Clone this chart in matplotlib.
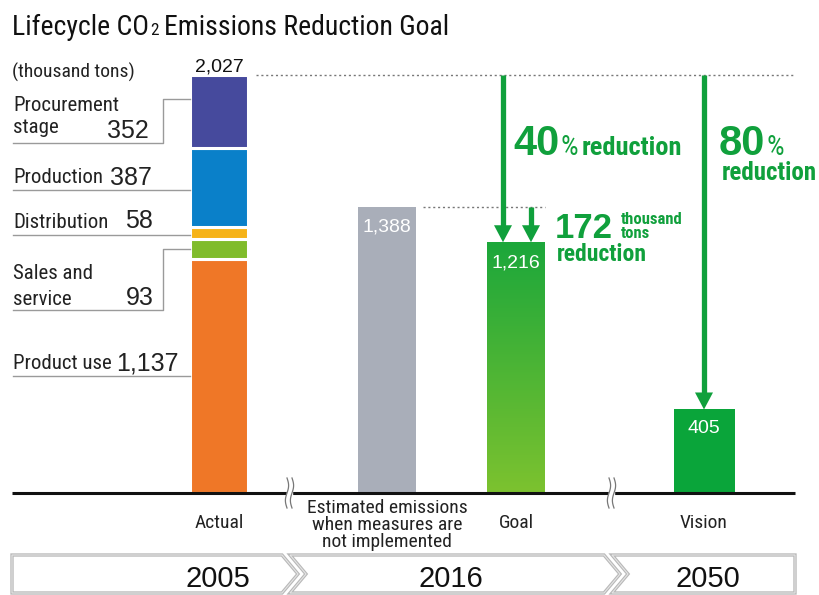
import matplotlib
matplotlib.use("Agg")
import matplotlib.pyplot as plt
import numpy as np
from matplotlib.patches import Polygon
from matplotlib.colors import LinearSegmentedColormap

# data
stage_names = ["Product use", "Sales and\nservice", "Distribution", "Production", "Procurement\nstage"]
stage_values = [1137, 93, 58, 387, 352]
stage_colors = ["#ef7727", "#80bc2b", "#f6b318", "#0a80c9", "#464a9d"]
stage_labels = ["1,137", "93", "58", "387", "352"]

categories = ["Actual", "Estimated emissions\nwhen measures are\nnot implemented", "Goal", "Vision"]
cat_values = [2027, 1388, 1216, 405]
cat_labels = ["2,027", "1,388", "1,216", "405"]
years = ["2005", "2016", "2050"]

NARROW = ["Roboto Condensed", "DejaVu Sans"]
REG = ["Liberation Sans", "DejaVu Sans"]
GREEN = "#10a03c"

W, H = 819, 595
BASE, TOP = 493, 75
SCALE = (BASE - TOP) / cat_values[0]


def py(p):
    # pixel row -> data value
    return (BASE - p) / SCALE


fig = plt.figure(figsize=(W / 100, H / 100), dpi=100)
ax = fig.add_axes([0, 0, 1, 1])
ax.set_xlim(0, W)
ax.set_ylim(py(H), py(0))
ax.axis("off")
rend = fig.canvas.get_renderer()


def chain(x, y, parts):
    for s, gap, kw in parts:
        x += gap
        t = ax.text(x, y, s, va="baseline", ha="left", **kw)
        bb = t.get_window_extent(renderer=rend)
        x = ax.transData.inverted().transform((bb.x1, bb.y0))[0]


# title
chain(12, py(35), [("Lifecycle CO", 0, dict(family=NARROW, size=20, color="#111")),
                   ("2", 1, dict(family=NARROW, size=12.5, color="#111")),
                   ("Emissions Reduction Goal", 5, dict(family=NARROW, size=20, color="#111"))])
ax.text(12, py(78), "(thousand tons)", family=NARROW, size=14, color="#222", va="baseline")

# 2005 stacked bar
xs = [219, 387, 516, 704]
bw = [58, 58, 58, 61]
bottom = 0
for v, c in zip(stage_values, stage_colors):
    ax.bar(xs[0], v, bw[0], bottom=bottom, color=c, edgecolor="white", linewidth=2.2)
    bottom += v
ax.text(xs[0], py(72), cat_labels[0], family=REG, size=14, ha="center", va="baseline", color="#111")

# other bars
ax.bar(xs[1], cat_values[1], bw[1], color="#a9aeb9")
goal = ax.bar(xs[2], cat_values[2], bw[2], color="#3aae3a")[0]
ax.bar(xs[3], cat_values[3], bw[3], color="#0aa53a")
grad = np.linspace(0, 1, 100).reshape(-1, 1)
cm = LinearSegmentedColormap.from_list("g", ["#1ca73b", "#7cc22f"])
im = ax.imshow(grad, cmap=cm, aspect="auto", origin="upper", zorder=1.5,
               extent=[goal.get_x(), goal.get_x() + goal.get_width(), 0, goal.get_height()])
im.set_clip_path(goal)
ax.set_xlim(0, W)
ax.set_ylim(py(H), py(0))

for x, v, lab, b in zip(xs[1:], cat_values[1:], cat_labels[1:], [232, 268, 433]):
    ax.text(x, py(b), lab, family=REG, size=14, color="white", ha="center", va="baseline", zorder=3)

# stage labels with leader lines
lab_rows = {  # name lines baselines, number baseline, number right edge, leader path
    "Procurement\nstage": ([111, 133], 138, 149, [(13, 143), (163, 143), (163, 99), (190, 99)]),
    "Production": ([183], 185, 152, [(13, 190), (190, 190)]),
    "Distribution": ([228], 228, 153, [(13, 235), (190, 235)]),
    "Sales and\nservice": ([279, 305], 305, 154, [(13, 310), (163, 310), (163, 249), (190, 249)]),
    "Product use": ([369], 370, 179, [(13, 376), (190, 376)]),
}
for name, num in zip(stage_names, stage_labels):
    rows, nb, nx, path = lab_rows[name]
    for line, b in zip(name.split("\n"), rows):
        ax.text(13, py(b), line, family=NARROW, size=15, color="#222", va="baseline")
    ax.text(nx, py(nb), num, family=REG, size=18, color="#222", ha="right", va="baseline")
    px, pyy = zip(*path)
    ax.plot(px, [py(p) for p in pyy], color="#9a9a9a", lw=1)

# dotted reference lines
ax.plot([256, 793], [cat_values[0]] * 2, color="#777", lw=1, ls=(0, (1.5, 2)))
ax.plot([423, 545], [cat_values[1]] * 2, color="#777", lw=1, ls=(0, (1.5, 2)))

# arrows
hl = 17 / SCALE


def arrow(x, y0, y1):
    ax.plot([x, x], [y0, y1 + hl * 0.9], color=GREEN, lw=3.8, solid_capstyle="butt")
    ax.add_patch(Polygon([(x - 9, y1 + hl), (x + 9, y1 + hl), (x, y1)], closed=True,
                         color=GREEN, lw=0))


arrow(503, cat_values[0], cat_values[2])
arrow(531, cat_values[1], cat_values[2])
arrow(704, cat_values[0], cat_values[3])

bold_n = dict(family=NARROW, weight="bold", color=GREEN)
chain(513, py(155), [("40", 0, dict(family=REG, weight="bold", size=30, color=GREEN)),
                     ("%", 1, dict(family=NARROW, size=20, color=GREEN)),
                     ("reduction", 4, dict(size=19, **bold_n))])
chain(719, py(155), [("80", 0, dict(family=REG, weight="bold", size=30, color=GREEN)),
                     ("%", 1, dict(family=NARROW, size=20, color=GREEN))])
ax.text(722, py(180), "reduction", size=18, va="baseline", **bold_n)
ax.text(555, py(238), "172", family=REG, weight="bold", size=25, color=GREEN, va="baseline")
ax.text(621, py(224), "thousand", size=12, va="baseline", **bold_n)
ax.text(621, py(238), "tons", size=12, va="baseline", **bold_n)
ax.text(557, py(261), "reduction", size=17, va="baseline", **bold_n)

# baseline with breaks
ax.plot([12, 795], [0, 0], color="#111", lw=2.2, solid_capstyle="butt")
t = np.linspace(0, 1, 40)
for bx in [288, 610]:
    ax.fill_betweenx([py(470), py(512)], bx - 1, bx + 4, color="white", zorder=3)
    for dx in [-1, 4]:
        xx = bx + dx + 1.6 * np.sin(t * 2 * np.pi)
        ax.plot(xx, [py(478 + 30 * v) for v in t], color="#777", lw=0.9, zorder=4)

# category labels
cat_base = [528, 513, 528, 528]
for x, c, b in zip(xs, categories, cat_base):
    for i, line in enumerate(c.split("\n")):
        ax.text(x, py(b + 17 * i), line, family=NARROW, size=14, color="#222",
                ha="center", va="baseline")

# year band
band = [
    [(12, 555), (282, 555), (298, 574), (282, 593), (12, 593)],
    [(290, 555), (604, 555), (620, 574), (604, 593), (290, 593), (306, 574)],
    [(612, 555), (795, 555), (795, 593), (612, 593), (628, 574)],
]
for poly in band:
    pts = [(x, py(y)) for x, y in poly]
    ax.add_patch(Polygon(pts, closed=True, facecolor="white", edgecolor="#b8b8b8", lw=2.4))
    ax.add_patch(Polygon(pts, closed=True, facecolor="none", edgecolor="#e4e4e4", lw=0.8))
for yr, x in zip(years, [218, 451, 708]):
    ax.text(x, py(587), yr, family=REG, size=21, color="#111", ha="center", va="baseline")

fig.savefig("out.png", dpi=100)
